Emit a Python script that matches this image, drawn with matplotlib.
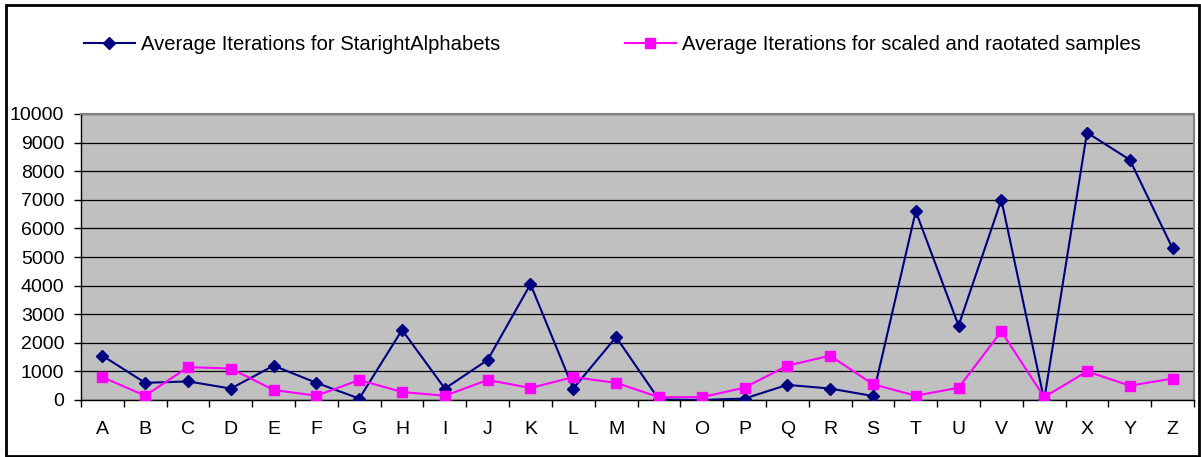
import matplotlib
matplotlib.use("Agg")
import matplotlib.pyplot as plt
from matplotlib.patches import Rectangle
import numpy as np

plt.rcParams['font.family'] = ['Liberation Sans', 'DejaVu Sans']

letters = list("ABCDEFGHIJKLMNOPQRSTUVWXYZ")
straightIters = [1550, 600, 650, 400, 1200, 600, 50, 2450, 400, 1400, 4050, 400, 2200,
                 20, 0, 50, 530, 400, 140, 6600, 2600, 7000, 0, 9350, 8400, 5300]
scaledIters = [800, 150, 1150, 1100, 350, 150, 700, 280, 150, 700, 420, 800, 600,
               100, 100, 430, 1200, 1550, 550, 150, 430, 2400, 100, 1000, 500, 750]
yTicks = [0, 1000, 2000, 3000, 4000, 5000, 6000, 7000, 8000, 9000, 10000]

W, H = 1201, 457
fig = plt.figure(figsize=(W / 100, H / 100), dpi=100)
# plot area in pixels: left 81, right 1194, top 114, bottom 400
ax = fig.add_axes([81 / W, 1 - 400 / H, (1194 - 81) / W, (400 - 114) / H])
ax.set_facecolor('#C0C0C0')

x = np.arange(len(letters))
navyLine, = ax.plot(x, straightIters, color='#000080', lw=1.5, marker='D', ms=6.5,
                    label='Average Iterations for StarightAlphabets', zorder=3)
pinkLine, = ax.plot(x, scaledIters, color='#FF00FF', lw=1.5, marker='s', ms=7.5,
                    label='Average Iterations for scaled and raotated samples', zorder=3)

ax.set_xlim(-0.5, len(letters) - 0.5)
ax.set_ylim(0, 10000)
ax.set_yticks(yTicks)
ax.set_yticklabels([str(v) for v in yTicks])
ax.yaxis.grid(True, color='black', lw=0.9)
ax.set_axisbelow(True)

ax.set_xticks(x)
ax.set_xticklabels(letters)
ax.set_xticks(np.arange(-0.5, len(letters), 1.0), minor=True)
ax.tick_params(axis='x', which='major', length=0, pad=15, labelsize=14)
ax.tick_params(axis='x', which='minor', length=5, width=1, direction='out', color='black')
ax.tick_params(axis='y', length=5, width=1, direction='out', pad=7, labelsize=14)

for side in ('top', 'right'):
    ax.spines[side].set_color('#808080')
    ax.spines[side].set_linewidth(1.5)
for side in ('left', 'bottom'):
    ax.spines[side].set_color('black')
    ax.spines[side].set_linewidth(1)

# legends placed separately, like the original layout
legendKw = dict(loc='center left', frameon=False, fontsize=14.6, handlelength=2.5,
                handletextpad=0.3, borderpad=0, borderaxespad=0)
fig.legend(handles=[navyLine], bbox_to_anchor=(84 / W, 1 - 45 / H), **legendKw)
fig.legend(handles=[pinkLine], bbox_to_anchor=(625 / W, 1 - 45 / H), **legendKw)

# outer chart border
fig.patches.append(Rectangle((6 / W, 1 - 456 / H), (1199 - 6) / W, (456 - 5) / H,
                             transform=fig.transFigure, fill=False, ec='black', lw=2))

fig.savefig('out.png', dpi=100)
